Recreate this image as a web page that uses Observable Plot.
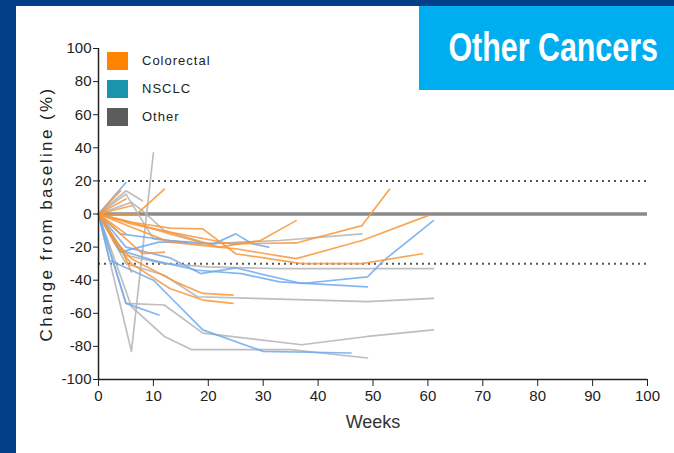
<!DOCTYPE html>
<html><head><meta charset="utf-8">
<script src="https://cdn.jsdelivr.net/npm/d3@7"></script>
<script src="https://cdn.jsdelivr.net/npm/@observablehq/plot@0.6"></script>
<style>
body{margin:0;background:#fff;}
#wrap{position:relative;width:674px;height:453px;background:#023f88;overflow:hidden;font-family:"Liberation Sans",Arial,sans-serif;}
#panel{position:absolute;left:16px;top:6px;right:0;bottom:0;background:#fff;}
#title{position:absolute;left:419px;top:6px;width:255px;height:84px;background:#00aeef;}
#title span{position:absolute;left:0;right:10px;top:18px;text-align:center;color:#fff;font-family:"Liberation Sans",sans-serif;font-weight:bold;font-size:40px;line-height:46px;transform:scaleX(0.76);transform-origin:50% 50%;white-space:nowrap;}
#chart{position:absolute;left:0;top:0;}
.leg{position:absolute;left:107px;width:21px;height:18px;}
.legt{position:absolute;left:142px;font-size:13px;letter-spacing:1px;color:#222;line-height:18px;}
</style></head>
<body>
<div id="wrap">
  <div id="panel"></div>
  <div id="title"><span>Other Cancers</span></div>
  <div id="chart"></div>
  <div id="legend"></div>
</div>
<script>
// Categories and legend
const groups = ["Colorectal", "NSCLC", "Other"];
const lineColors = ["#f8963a", "#6fa9ee", "#b3b3b3"];
const swatchColors = ["#ff8400", "#1a93ac", "#5c5c5c"];

// Tick labels
const xTicks = [0,10,20,30,40,50,60,70,80,90,100];
const yTicks = [-100,-80,-60,-40,-20,0,20,40,60,80,100];
const refLines = [20, -30];

// Series: [week, change from baseline %]
const colorectal = [
  [[0,0],[6,-8],[13,-17],[22,-20],[29.5,-16],[36,-4]],
  [[0,0],[6,-6],[13,-11],[24,-18],[36,-17.5],[48,-7],[53,15]],
  [[0,0],[6,-5],[13,-12],[22,-20],[25,-21],[36,-27],[48,-16],[60,-1]],
  [[0,0],[6,-5],[13,-8.5],[19,-9],[25,-24],[37,-30],[48,-30],[59,-24]],
  [[0,0],[3,-16],[6,-27],[14,-41],[19,-48],[24.5,-49]],
  [[0,0],[3,-18],[6,-30],[13,-45],[19,-52],[24.5,-54]],
  [[0,0],[4,-20],[6,-35]],
  [[0,0],[5,-15],[8,-24],[12,-23]],
  [[0,0],[4,14]],
  [[0,0],[5,9]],
  [[0,0],[6,5]],
  [[0,0],[5,-12]],
  [[0,0],[7,0],[12,15]]
];
const nsclc = [
  [[0,0],[2,-28],[10,-40],[13,-50],[19,-70],[30,-83],[46,-84]],
  [[0,0],[5,-54],[11,-61]],
  [[0,0],[5,-20],[13,-26.5],[18.6,-36],[25,-32.6],[37,-42],[49,-38],[52,-28],[61,-4]],
  [[0,0],[4,-22],[10,-28],[18,-34],[26,-36],[33,-41],[49,-44]],
  [[0,0],[4,-12],[13,-16],[21,-18],[25,-12],[28,-18],[31,-20]],
  [[0,0],[5,19]],
  [[0,0],[4,-23],[11,-17],[16,-17]]
];
const other = [
  [[0,0],[5,-54],[12,-55],[19,-72],[37,-79],[49,-74],[61,-70]],
  [[0,0],[6,-56],[12,-74],[17,-82],[35,-82],[49,-87]],
  [[0,0],[5,-30],[12,-37],[18,-50],[49,-53],[61,-51]],
  [[0,0],[5,-25],[12,-30],[20,-32],[33,-33],[61,-33]],
  [[0,0],[6,7],[8,2],[12,-10],[20,-18],[33,-16],[48,-12]],
  [[0,0],[5,12],[10,-15],[18,-18],[28,-17]],
  [[0,0],[6,-83],[10,37]],
  [[0,0],[5,14],[8,8]]
];

const seriesByGroup = [other, nsclc, colorectal];
const groupOrder = ["Other", "NSCLC", "Colorectal"];
const rows = [];
seriesByGroup.forEach((list, gi) => {
  list.forEach((pts, si) => {
    pts.forEach(([w, c]) => rows.push({group: groupOrder[gi], id: groupOrder[gi] + si, week: w, change: c}));
  });
});

const chart = Plot.plot({
  width: 674, height: 453,
  marginLeft: 98, marginRight: 27, marginTop: 48, marginBottom: 74,
  style: {background: "transparent", fontFamily: "'Liberation Sans',sans-serif", fontSize: "15px", color: "#222"},
  x: {domain: [0, 100]},
  y: {domain: [-100, 100]},
  color: {domain: groups, range: lineColors},
  marks: [
    Plot.ruleY([0], {x1: 0, x2: 100, stroke: "#8a8a8a", strokeWidth: 3.5}),
    Plot.ruleY(refLines, {x1: 0, x2: 100, stroke: "#555", strokeWidth: 2, strokeDasharray: "2,4"}),
    Plot.line(rows, {x: "week", y: "change", z: "id", stroke: "group", strokeWidth: 1.7, strokeOpacity: 0.85}),
    Plot.axisX({ticks: xTicks, tickSize: 7, tickPadding: 4, tickFormat: d => String(d), label: null, stroke: "#222"}),
    Plot.axisY({ticks: yTicks, tickSize: 5, tickPadding: 2, tickFormat: d => String(d), label: null, stroke: "#222"}),
    Plot.ruleX([0], {stroke: "#222", strokeWidth: 1.5}),
    Plot.ruleY([-100], {stroke: "#222", strokeWidth: 1.5}),
    Plot.text(["Weeks"], {frameAnchor: "bottom", dy: 48, fontSize: 18, fill: "#333"}),
    Plot.text(["Change from baseline (%)"], {frameAnchor: "left", textAnchor: "middle", dx: -52, rotate: -90, fontSize: 17, fill: "#222"})
  ]
});
d3.select(chart).selectAll("text").filter(function(){return this.textContent === "Change from baseline (%)";})
  .style("letter-spacing", "2.4px");
document.getElementById("chart").appendChild(chart);

const leg = document.getElementById("legend");
const legTops = [52, 80, 108];
groups.forEach((g, i) => {
  const s = document.createElement("div");
  s.className = "leg"; s.style.top = legTops[i] + "px"; s.style.background = swatchColors[i];
  leg.appendChild(s);
  const t = document.createElement("div");
  t.className = "legt"; t.style.top = legTops[i] + "px"; t.textContent = g;
  leg.appendChild(t);
});
</script>
</body></html>
